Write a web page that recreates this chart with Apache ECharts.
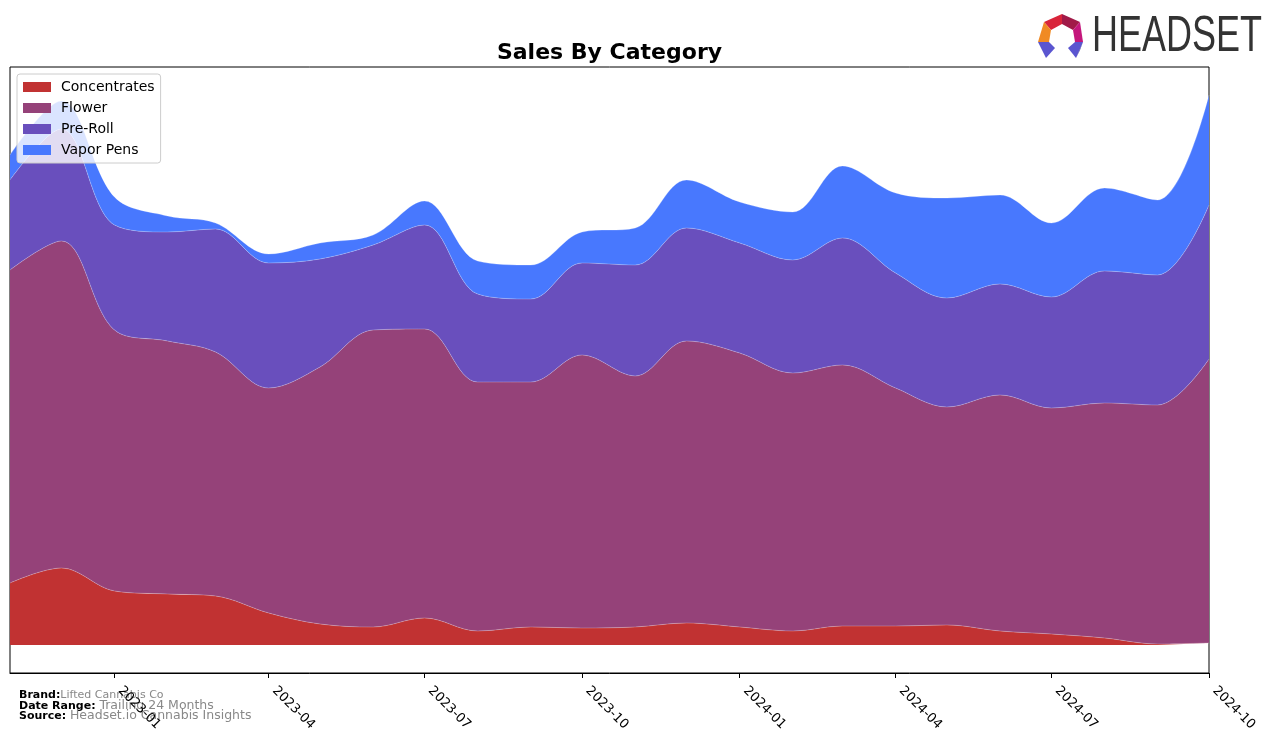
<!DOCTYPE html>
<html>
<head>
<meta charset="utf-8">
<script src="https://cdn.jsdelivr.net/npm/echarts@6/dist/echarts.min.js"></script>
<style>
html,body{margin:0;padding:0;background:#fff;}
#chart{width:1276px;height:743px;}
</style>
</head>
<body>
<div id="chart"></div>
<script>
// ---- data (monthly, arbitrary sales units) ----
const months = ['2022-11-01','2022-12-01','2023-01-01','2023-02-01','2023-03-01','2023-04-01','2023-05-01','2023-06-01','2023-07-01','2023-08-01','2023-09-01','2023-10-01','2023-11-01','2023-12-01','2024-01-01','2024-02-01','2024-03-01','2024-04-01','2024-05-01','2024-06-01','2024-07-01','2024-08-01','2024-09-01','2024-10-01'];
const concentrates = [62,77,54,51,49,32,21,18,27,14,18,17,18,22,18,14,19,19,20,14,11,7,1,2];
const flower = [313,327,261,253,244,225,257,297,289,249,245,273,251,282,274,258,261,238,218,236,226,235,239,284];
const preRoll = [90,112,105,109,123,125,108,85,104,88,83,92,111,113,110,113,127,115,109,111,111,132,130,154];
const vaporPens = [25,28,28,16,6,9,16,10,24,33,34,31,37,48,41,48,72,80,100,89,74,83,75,110];
const tickLabels = ['2023-01','2023-04','2023-07','2023-10','2024-01','2024-04','2024-07','2024-10'];

const seriesNames = ['Concentrates','Flower','Pre-Roll','Vapor Pens'];
const seriesColors = ['#c13232','#954279','#694fbd','#4878fe'];
const seriesData = [concentrates, flower, preRoll, vaporPens];

function toTime(s){ const p = s.split('-'); return Date.UTC(+p[0], +p[1]-1, p[2] ? +p[2] : 1); }
const tickValues = tickLabels.map(toTime);

const chart = echarts.init(document.getElementById('chart'), null, {renderer:'canvas'});
const FONT = 'DejaVu Sans';

const option = {
  animation: false,
  backgroundColor: '#fff',
  grid: {left: 10, right: 67, top: 67, bottom: 70, show: true, borderColor: '#000', borderWidth: 1, backgroundColor: 'transparent'},
  legend: {
    orient: 'vertical', left: 17, top: 74,
    data: seriesNames,
    icon: 'rect', itemWidth: 28, itemHeight: 10, itemGap: 7,
    padding: [6, 6, 6, 6],
    backgroundColor: 'rgba(255,255,255,0.8)', borderColor: '#cccccc', borderWidth: 1, borderRadius: 3,
    textStyle: {fontFamily: FONT, fontSize: 14, color: '#000', lineHeight: 14, padding: [0,0,0,5]}
  },
  xAxis: {
    type: 'value',
    min: toTime(months[0]), max: toTime(months[months.length-1]),
    splitLine: {show: false},
    axisLine: {show: true, onZero: false, lineStyle: {color: '#000', width: 1}},
    axisTick: {show: true, length: 5, lineStyle: {color: '#000'}, customValues: tickValues},
    axisLabel: {
      customValues: tickValues,
      rotate: -45, margin: 10, padding: [0,0,0,8],
      fontFamily: FONT, fontSize: 13, color: '#000',
      formatter: function(v){ const d = new Date(v); return d.getUTCFullYear() + '-' + String(d.getUTCMonth()+1).padStart(2,'0'); }
    }
  },
  yAxis: {type: 'value', min: -28, max: 578, show: false, splitLine: {show: false}},
  series: seriesNames.map((name, i) => ({
    name: name, type: 'line', stack: 'total', smooth: 0.35, symbol: 'none',
    data: months.map((m, j) => [seriesData[i][j], toTime(m)]),
    encode: {x: 1, y: 0},
    lineStyle: {width: 0.8, color: 'rgba(255,255,255,0.3)'},
    itemStyle: {color: seriesColors[i]},
    areaStyle: {color: seriesColors[i], opacity: 1}
  })),
  graphic: [
    {type: 'text', x: 609.5, y: 53, style: {text: 'Sales By Category', font: 'bold 22px "DejaVu Sans"', fill: '#000', textAlign: 'center', textVerticalAlign: 'middle'}},
    {type: 'text', x: 19, y: 695, style: {text: '{b|Brand:}{v|Lifted Cannabis Co}', rich: {b: {fontFamily: FONT, fontWeight: 'bold', fontSize: 11, fill: '#000'}, v: {fontFamily: FONT, fontSize: 11, fill: '#888'}}, textVerticalAlign: 'middle'}},
    {type: 'text', x: 19, y: 706, style: {text: '{b|Date Range: }{v|Trailing 24 Months}', rich: {b: {fontFamily: FONT, fontWeight: 'bold', fontSize: 11, fill: '#000'}, v: {fontFamily: FONT, fontSize: 12.5, fill: '#888'}}, textVerticalAlign: 'middle'}},
    {type: 'text', x: 19, y: 716, style: {text: '{b|Source: }{v|Headset.io Cannabis Insights}', rich: {b: {fontFamily: FONT, fontWeight: 'bold', fontSize: 11, fill: '#000'}, v: {fontFamily: FONT, fontSize: 12.5, fill: '#888'}}, textVerticalAlign: 'middle'}},
    // logo
    {type: 'group', children: [
      {type: 'polygon', shape: {points: [[1044,22],[1062,14],[1062,24],[1051,30]]}, style: {fill: '#d9243a'}},
      {type: 'polygon', shape: {points: [[1062,14],[1080,22],[1073,30],[1062,24]]}, style: {fill: '#a11a48'}},
      {type: 'polygon', shape: {points: [[1044,22],[1051,30],[1049,42],[1038,42]]}, style: {fill: '#f08a24'}},
      {type: 'polygon', shape: {points: [[1080,22],[1083,42],[1075,42],[1073,30]]}, style: {fill: '#c4177c'}},
      {type: 'polygon', shape: {points: [[1038,42],[1049,42],[1055,48],[1046,58]]}, style: {fill: '#5a55d0'}},
      {type: 'polygon', shape: {points: [[1038,42],[1046,58],[1042,50]]}, style: {fill: '#2e2b88'}},
      {type: 'polygon', shape: {points: [[1075,42],[1083,42],[1076,58],[1068,48]]}, style: {fill: '#5a55d0'}},
      {type: 'polygon', shape: {points: [[1083,42],[1076,58],[1080,50]]}, style: {fill: '#2e2b88'}}
    ]},
    {type: 'text', x: 1092, y: 37, scaleX: 0.72, originX: 0, originY: 0, style: {text: 'HEADSET', font: '50px "Liberation Sans"', fill: '#333333', textAlign: 'left', textVerticalAlign: 'middle'}}
  ]
};
chart.setOption(option);
</script>
</body>
</html>
